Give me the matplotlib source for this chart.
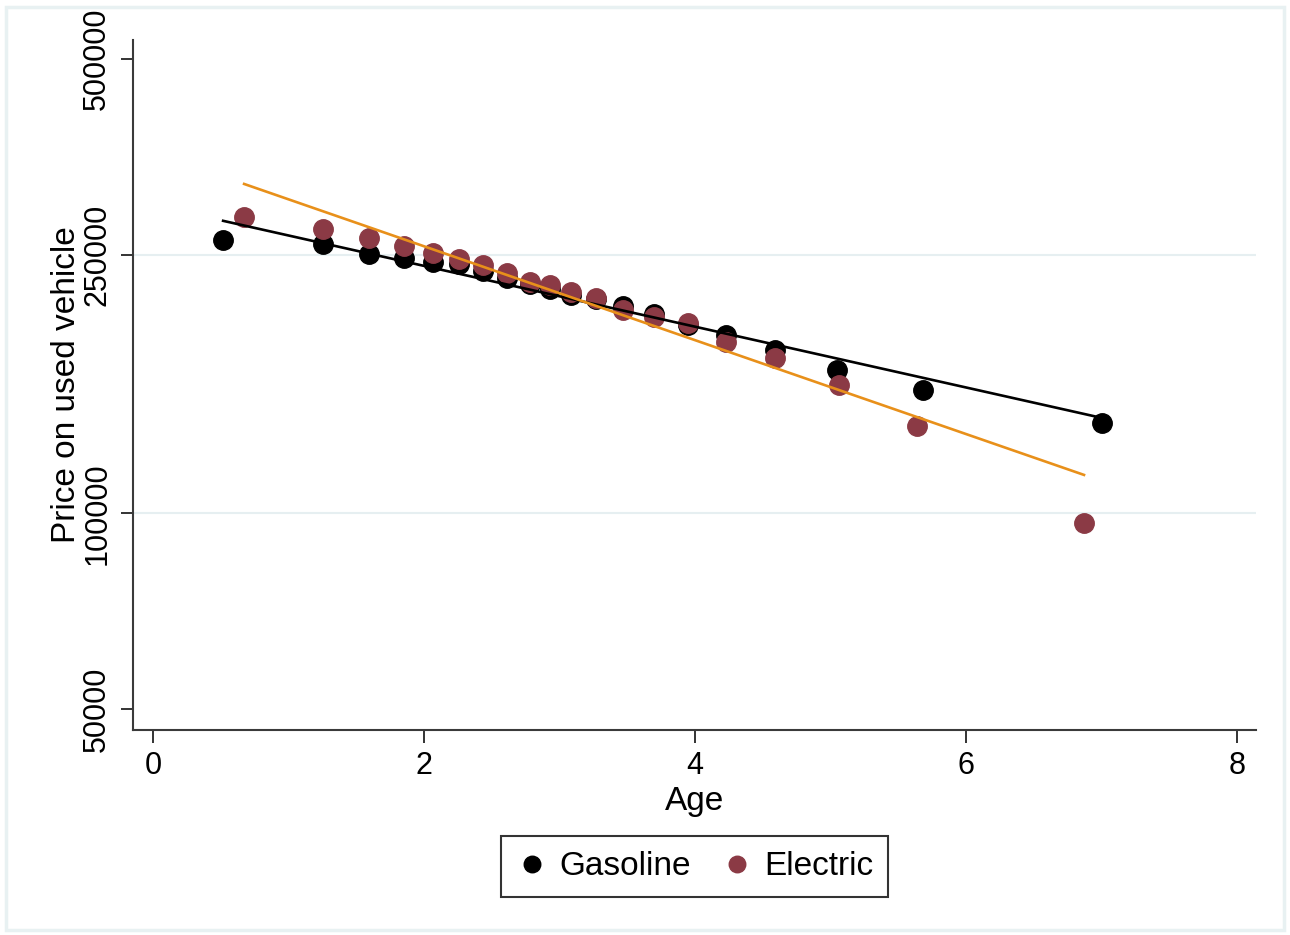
"""
Binscatter: preco de veiculo usado vs idade (gasolina x eletrico)
"""
import numpy as np
import matplotlib.pyplot as plt
from matplotlib.patches import Rectangle

plt.rcParams['font.family'] = ['Liberation Sans', 'DejaVu Sans']

# Dados
age_gas = [0.517, 1.255, 1.594, 1.852, 2.066, 2.258, 2.435, 2.613, 2.782, 2.930,
           3.085, 3.269, 3.469, 3.697, 3.948, 4.229, 4.590, 5.048, 5.683, 7.004]
price_gas = [263400, 259700, 250600, 247100, 243600, 241900, 236000, 230200, 225400, 221400,
             216800, 214000, 208400, 202600, 194900, 188100, 178400, 166200, 154800, 137700]

age_ev = [0.672, 1.255, 1.594, 1.852, 2.066, 2.258, 2.435, 2.613, 2.782, 2.930,
          3.085, 3.269, 3.469, 3.697, 3.948, 4.229, 4.590, 5.063, 5.638, 6.871]
price_ev = [285700, 273800, 265200, 257800, 251500, 246200, 241000, 234300, 227000, 224500,
            219000, 214500, 205500, 200500, 196300, 183500, 173400, 157600, 136300, 96650]

# retas ajustadas (extremos)
fit_gas_x = [0.517, 7.004]
fit_gas_y = [281800, 140200]
fit_ev_x = [0.672, 6.871]
fit_ev_y = [321100, 114600]

xticks = [0, 2, 4, 6, 8]
yticks = [50000, 100000, 250000, 500000]

c_ev = '#8b3a45'
c_fit_ev = '#e8901a'
c_grid = '#e6eff1'

fig = plt.figure(figsize=(12.9, 9.35), dpi=100)
fig.patches.append(Rectangle((0.005, 0.005), 0.99, 0.988, transform=fig.transFigure,
                             fill=False, edgecolor='#e8f1f2', lw=2.5))
ax = fig.add_axes([0.1031, 0.2193, 0.8705, 0.7380])

ax.set_yscale('log')
ax.set_xlim(-0.148, 8.14)
ax.set_ylim(46450, 534700)

for yv in yticks[1:-1]:
    ax.axhline(yv, color=c_grid, lw=1.5, zorder=0)

ax.plot(age_gas, price_gas, 'o', color='black', ms=14, label='Gasoline', zorder=3)
ax.plot(age_ev, price_ev, 'o', color=c_ev, ms=14, label='Electric', zorder=4)
ax.plot(fit_gas_x, fit_gas_y, color='black', lw=1.9, zorder=5)
ax.plot(fit_ev_x, fit_ev_y, color=c_fit_ev, lw=1.9, zorder=5)

ax.set_xticks(xticks)
ax.set_xticklabels([str(t) for t in xticks])
ax.set_yticks(yticks)
ax.set_yticklabels([str(t) for t in yticks], rotation=90, va='center')
ax.yaxis.set_minor_locator(plt.NullLocator())
ax.tick_params(axis='both', labelsize=22, length=9, width=1.4, color='#333333', pad=6)

for s in ['top', 'right']:
    ax.spines[s].set_visible(False)
for s in ['left', 'bottom']:
    ax.spines[s].set_linewidth(1.5)
    ax.spines[s].set_color('#3a3a3a')

ax.set_xlabel('Age', fontsize=24, labelpad=4)
ax.set_ylabel('Price on used vehicle', fontsize=24, labelpad=0)

leg = ax.legend(loc='upper center', bbox_to_anchor=(0.5, -0.13), ncol=2, fontsize=24,
                frameon=True, fancybox=False, edgecolor='black', handletextpad=0.3,
                columnspacing=0.9, markerscale=0.85, borderpad=0.45, handlelength=1.0)
leg.get_frame().set_linewidth(1.5)

fig.savefig('out.png', dpi=100)
